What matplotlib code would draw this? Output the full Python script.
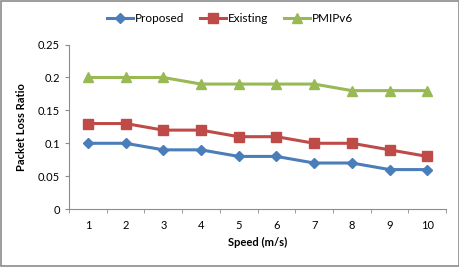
import matplotlib
matplotlib.use("Agg")
import matplotlib.pyplot as plt
import numpy as np

speeds = [1, 2, 3, 4, 5, 6, 7, 8, 9, 10]
proposed = [0.10, 0.10, 0.09, 0.09, 0.08, 0.08, 0.07, 0.07, 0.06, 0.06]
existing = [0.13, 0.13, 0.12, 0.12, 0.11, 0.11, 0.10, 0.10, 0.09, 0.08]
pmipv6 = [0.20, 0.20, 0.20, 0.19, 0.19, 0.19, 0.19, 0.18, 0.18, 0.18]
yticks = [0, 0.05, 0.1, 0.15, 0.2, 0.25]
ytick_labels = ["0", "0.05", "0.1", "0.15", "0.2", "0.25"]

plt.rcParams["font.family"] = ["Lato", "DejaVu Sans"]

fig = plt.figure(figsize=(4.6, 2.67), dpi=100)
fig.patches.append(plt.Rectangle((0.002, 0.003), 0.995, 0.994, transform=fig.transFigure,
                                 fill=False, edgecolor="#8c8c8c", linewidth=1.2))
ax = fig.add_axes([0.150, 0.217, 0.820, 0.616])

ax.plot(speeds, proposed, color="#4A7EBB", lw=2.2, marker="D", ms=5, label="Proposed")
ax.plot(speeds, existing, color="#BE4B48", lw=2.2, marker="s", ms=6.5, label="Existing")
ax.plot(speeds, pmipv6, color="#98B954", lw=2.2, marker="^", ms=7, label="PMIPv6")

ax.set_xlim(0.5, 10.5)
ax.set_ylim(0, 0.25)
ax.set_xticks(speeds)
ax.set_xticklabels([str(s) for s in speeds], fontsize=8)
ax.set_xticks(np.arange(0.5, 10.6, 1), minor=True)
ax.tick_params(axis="x", which="major", length=0, pad=8)
ax.tick_params(axis="x", which="minor", length=3, color="#8c8c8c")
ax.set_yticks(yticks)
ax.set_yticklabels(ytick_labels, fontsize=8)
ax.tick_params(axis="y", length=3, color="#8c8c8c")
for side in ["top", "right"]:
    ax.spines[side].set_visible(False)
for side in ["left", "bottom"]:
    ax.spines[side].set_color("#8c8c8c")
    ax.spines[side].set_linewidth(0.8)

ax.set_xlabel("Speed (m/s)", fontsize=8, fontweight="bold", labelpad=4)
ax.set_ylabel("Packet Loss Ratio", fontsize=8, fontweight="bold", labelpad=8)

fig.legend(loc="center", bbox_to_anchor=(0.5, 0.93), ncol=3, frameon=False, fontsize=8.5,
           handlelength=2.2, columnspacing=1.3, handletextpad=0.2)

fig.savefig("out.png", dpi=100)
